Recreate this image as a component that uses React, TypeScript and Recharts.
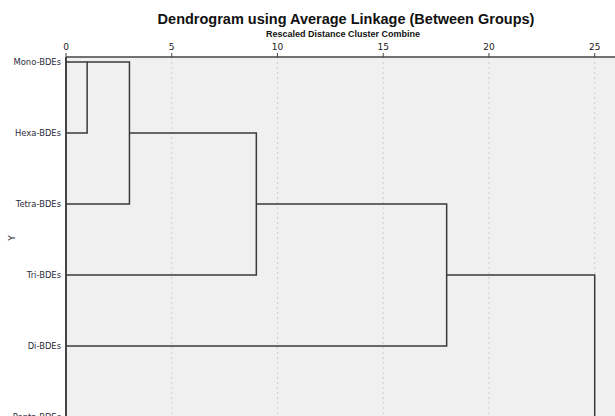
import { ScatterChart, Scatter, XAxis, YAxis, CartesianGrid } from 'recharts'

// leaves, top to bottom
const leaves = ['Mono-BDEs', 'Hexa-BDEs', 'Tetra-BDEs', 'Tri-BDEs', 'Di-BDEs', 'Penta-BDEs']

// each merge: rows joined, where each branch starts, and the rescaled distance
const merges = [
  { upper: 0, lower: 1, upperFrom: 0, lowerFrom: 0, dist: 1 },
  { upper: 0, lower: 2, upperFrom: 1, lowerFrom: 0, dist: 3 },
  { upper: 1, lower: 3, upperFrom: 3, lowerFrom: 0, dist: 9 },
  { upper: 2, lower: 4, upperFrom: 9, lowerFrom: 0, dist: 18 },
  { upper: 3, lower: 5, upperFrom: 18, lowerFrom: 0, dist: 25 },
]

const distTicks = [0, 5, 10, 15, 20, 25]
const rowTicks = leaves.map((_, i) => i)

const brackets = merges.map((m) => [
  { x: m.upperFrom, y: m.upper },
  { x: m.dist, y: m.upper },
  { x: m.dist, y: m.lower },
  { x: m.lowerFrom, y: m.lower },
])

const noDot = () => <g />

export default function App() {
  return (
    <div
      style={{
        position: 'absolute',
        left: 0,
        top: 0,
        width: 615,
        height: 416,
        overflow: 'hidden',
        background: '#fff',
      }}
    >
      <div
        style={{
          position: 'absolute',
          left: 0,
          width: 692,
          top: 11,
          textAlign: 'center',
          font: 'bold 14.5px "Liberation Sans", Arial, sans-serif',
          color: '#111',
        }}
      >
        Dendrogram using Average Linkage (Between Groups)
      </div>
      <div
        style={{
          position: 'absolute',
          left: 0,
          width: 686,
          top: 29,
          textAlign: 'center',
          font: 'bold 9px "Liberation Sans", Arial, sans-serif',
          color: '#111',
        }}
      >
        Rescaled Distance Cluster Combine
      </div>
      <div
        style={{
          position: 'absolute',
          left: 9,
          top: 233,
          transform: 'rotate(-90deg)',
          font: '9px "DejaVu Sans", sans-serif',
          color: '#333',
        }}
      >
        Y
      </div>
      <ScatterChart
        width={640}
        height={500}
        margin={{ top: 27, right: 3, left: 0, bottom: 17 }}
        style={{ position: 'absolute', left: 0, top: 0 }}
      >
        <CartesianGrid
          horizontal={false}
          stroke="#cfcfcf"
          strokeDasharray="2 3"
          fill="#f0f0f0"
        />
        <XAxis
          type="number"
          dataKey="x"
          orientation="top"
          domain={[0, 27]}
          ticks={distTicks}
          height={30}
          tickSize={4}
          tickMargin={3}
          axisLine={{ stroke: '#444', strokeWidth: 1.5 }}
          tickLine={{ stroke: '#444' }}
          tick={{ fill: '#222', fontSize: 9, fontFamily: 'DejaVu Sans' }}
        />
        <YAxis
          type="number"
          dataKey="y"
          reversed
          domain={[-0.07, 5.93]}
          ticks={rowTicks}
          tickFormatter={(i: number) => leaves[i]}
          width={66}
          tickSize={0}
          tickMargin={5}
          axisLine={{ stroke: '#444', strokeWidth: 2 }}
          tickLine={false}
          tick={{ fill: '#2b2b3b', fontSize: 8.4, fontFamily: 'DejaVu Sans' }}
        />
        {brackets.map((pts, i) => (
          <Scatter
            key={i}
            data={pts}
            line={{ stroke: '#3a3a3a', strokeWidth: 1.5 }}
            lineType="joint"
            shape={noDot}
            isAnimationActive={false}
          />
        ))}
      </ScatterChart>
    </div>
  )
}
